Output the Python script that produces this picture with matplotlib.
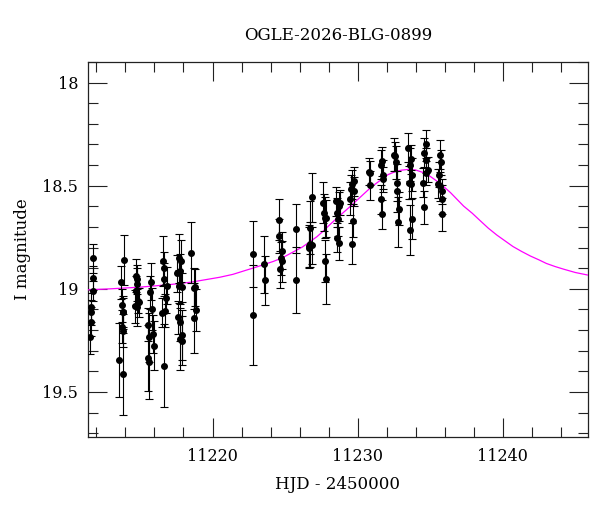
import matplotlib
matplotlib.use("Agg")
import matplotlib.pyplot as plt
from matplotlib.ticker import MultipleLocator, FixedLocator, FixedFormatter

# ---------------- data ----------------
title = "OGLE-2026-BLG-0899"
xlabel = "HJD - 2450000"
ylabel = "I magnitude"

hjd = [
    # night 1
    11211.75, 11211.78, 11211.78, 11211.62, 11211.65, 11211.60, 11211.57,
    # night 2
    11213.91, 11213.68, 11213.73, 11213.80, 11213.86, 11213.73, 11213.82, 11213.57, 11213.85,
    # night 3
    11214.75, 11214.80, 11214.78, 11214.70, 11214.86, 11214.92, 11214.65, 11214.80,
    # night 4
    11215.76, 11215.71, 11215.83, 11215.57, 11215.64, 11215.87, 11215.94, 11215.57, 11215.64,
    # night 5
    11216.58, 11216.63, 11216.67, 11216.86, 11216.79, 11216.52, 11216.75, 11216.63,
    # night 6
    11217.71, 11217.82, 11217.55, 11217.78, 11217.71, 11217.89, 11217.59, 11217.78, 11217.89, 11217.76, 11217.93,
    # night 7
    11218.55, 11218.69, 11218.81, 11218.88, 11218.74,
    # later nights
    11222.82, 11222.80,
    11223.58, 11223.62,
    11224.60, 11224.60, 11224.78, 11224.71, 11224.80, 11224.64,
    11225.73, 11225.78,
    11226.86, 11226.75, 11226.75, 11226.68, 11226.86, 11226.68,
    11227.61, 11227.70, 11227.75, 11227.84, 11227.77, 11227.84,
    11228.52, 11228.68, 11228.75, 11228.57, 11228.64, 11228.57, 11228.68,
    11229.72, 11229.64, 11229.53, 11229.76, 11229.50, 11229.69, 11229.60,
    11230.80, 11230.83, 11230.87,
    11231.70, 11231.63, 11231.75, 11231.77, 11231.63, 11231.68,
    11232.50, 11232.57, 11232.64, 11232.68, 11232.73, 11232.84, 11232.80,
    11233.50, 11233.66, 11233.61, 11233.73, 11233.54, 11233.68, 11233.77, 11233.61,
    11234.69, 11234.60, 11234.71, 11234.83, 11234.71, 11234.51, 11234.60,
    11235.69, 11235.73, 11235.62, 11235.55, 11235.69, 11235.78, 11235.83, 11235.83,
]

mag = [
    18.853, 18.948, 19.010, 19.090, 19.114, 19.159, 19.235,
    18.860, 18.969, 19.079, 19.114, 19.113, 19.184, 19.204, 19.344, 19.412,
    18.937, 18.953, 18.977, 19.010, 19.058, 19.066, 19.085, 19.090,
    18.966, 19.017, 19.098, 19.175, 19.235, 19.219, 19.275, 19.336, 19.356,
    18.865, 18.901, 18.953, 18.986, 19.046, 19.117, 19.106, 19.372,
    18.853, 18.865, 18.924, 18.913, 18.988, 18.993, 19.138, 19.162, 19.224, 19.243, 19.251,
    18.824, 18.998, 18.993, 19.103, 19.143,
    18.829, 19.127,
    18.882, 18.959,
    18.665, 18.744, 18.816, 18.853, 18.867, 18.905,
    18.708, 18.957,
    18.557, 18.703, 18.784, 18.792, 18.789, 18.800,
    18.583, 18.631, 18.655, 18.658, 18.865, 18.953,
    18.575, 18.599, 18.583, 18.631, 18.663, 18.752, 18.779,
    18.478, 18.494, 18.518, 18.527, 18.563, 18.671, 18.781,
    18.433, 18.438, 18.498,
    18.382, 18.398, 18.446, 18.470, 18.567, 18.639,
    18.349, 18.357, 18.386, 18.486, 18.527, 18.612, 18.676,
    18.317, 18.373, 18.398, 18.446, 18.486, 18.494, 18.660, 18.715,
    18.298, 18.341, 18.377, 18.422, 18.438, 18.486, 18.604,
    18.349, 18.386, 18.446, 18.491, 18.502, 18.527, 18.567, 18.639,
]

mag_err = [
    0.07, 0.06, 0.05, 0.07, 0.06, 0.07, 0.08,
    0.12, 0.08, 0.08, 0.07, 0.08, 0.08, 0.08, 0.18, 0.20,
    0.08, 0.07, 0.08, 0.07, 0.06, 0.07, 0.08, 0.09,
    0.09, 0.08, 0.10, 0.08, 0.12, 0.09, 0.12, 0.16, 0.18,
    0.12, 0.08, 0.08, 0.09, 0.07, 0.07, 0.08, 0.20,
    0.12, 0.10, 0.09, 0.08, 0.08, 0.07, 0.08, 0.09, 0.12, 0.15, 0.12,
    0.15, 0.10, 0.09, 0.10, 0.17,
    0.16, 0.24,
    0.14, 0.12,
    0.10, 0.08, 0.09, 0.08, 0.10, 0.09,
    0.12, 0.16,
    0.12, 0.13, 0.11, 0.10, 0.09, 0.10,
    0.10, 0.09, 0.10, 0.09, 0.10, 0.12,
    0.07, 0.07, 0.06, 0.07, 0.08, 0.07, 0.08,
    0.07, 0.07, 0.07, 0.07, 0.08, 0.08, 0.10,
    0.065, 0.06, 0.07,
    0.07, 0.07, 0.07, 0.06, 0.07, 0.07,
    0.08, 0.07, 0.08, 0.09, 0.10, 0.08, 0.12,
    0.07, 0.07, 0.08, 0.08, 0.08, 0.07, 0.10, 0.12,
    0.07, 0.07, 0.06, 0.06, 0.06, 0.07, 0.08,
    0.07, 0.06, 0.06, 0.07, 0.07, 0.06, 0.07, 0.08,
]

# model curve
model_hjd = [11211.4, 11213.0, 11215.0, 11217.0, 11218.5, 11219.5, 11220.5, 11221.4,
             11222.4, 11223.0, 11223.6, 11224.2, 11224.8, 11225.7, 11226.2, 11226.6,
             11227.2, 11227.6, 11228.1, 11228.5, 11229.0, 11229.5, 11230.1, 11230.7,
             11231.1, 11231.7, 11232.1, 11232.6, 11233.0, 11233.5, 11234.0, 11234.5,
             11235.0, 11235.7, 11236.4, 11237.3, 11237.9, 11238.4, 11239.0, 11239.6,
             11240.2, 11240.7, 11241.3, 11241.9, 11242.5, 11243.0, 11243.6, 11244.2,
             11245.0, 11245.9]
model_mag = [19.005, 19.000, 18.992, 18.980, 18.968, 18.956, 18.944, 18.930,
             18.908, 18.895, 18.881, 18.867, 18.850, 18.816, 18.797, 18.777,
             18.747, 18.722, 18.688, 18.662, 18.631, 18.600, 18.561, 18.522,
             18.498, 18.467, 18.446, 18.432, 18.425, 18.421, 18.424, 18.436,
             18.455, 18.490, 18.534, 18.599, 18.634, 18.667, 18.706, 18.740,
             18.770, 18.795, 18.819, 18.841, 18.860, 18.877, 18.892, 18.905,
             18.921, 18.934]

ytick_values = [18, 18.5, 19, 19.5]
ytick_labels = ["18", "18.5", "19", "19.5"]
xtick_values = [11220, 11230, 11240]
xtick_labels = ["11220", "11230", "11240"]

# ---------------- figure ----------------
plt.rcParams['font.family'] = ['DejaVu Serif']
fig = plt.figure(figsize=(6.0, 5.12), dpi=100)
ax = fig.add_axes([88 / 600, (512 - 436.7) / 512, (587.7 - 88) / 600, (436.7 - 61.7) / 512])

ax.plot(model_hjd, model_mag, color='#ff00ff', lw=0.9, zorder=3)
ax.errorbar(hjd, mag, yerr=mag_err, fmt='o', color='black', ms=4.0,
            ecolor='black', elinewidth=0.8, capsize=3.2, capthick=0.8, zorder=4)

ax.set_xlim(11211.42, 11245.85)
ax.set_ylim(19.717, 17.899)

ax.xaxis.set_major_locator(FixedLocator(xtick_values))
ax.xaxis.set_major_formatter(FixedFormatter(xtick_labels))
ax.xaxis.set_minor_locator(MultipleLocator(2))
ax.yaxis.set_major_locator(FixedLocator(ytick_values))
ax.yaxis.set_major_formatter(FixedFormatter(ytick_labels))
ax.yaxis.set_minor_locator(MultipleLocator(0.1))

ax.tick_params(which='both', direction='in', top=True, right=True, colors='#222222',
               labelcolor='black', labelsize=11.5, width=0.8)
ax.tick_params(which='major', length=13.5)
ax.tick_params(which='minor', length=7.0)
ax.tick_params(axis='x', which='major', pad=8)
ax.tick_params(axis='y', which='major', pad=7)
for s in ax.spines.values():
    s.set_linewidth(0.9)
    s.set_color('#222222')

fig.text(338 / 600, 1 - 35 / 512, title, ha='center', va='center', fontsize=12)
ax.set_xlabel(xlabel, fontsize=12, labelpad=8)
ax.set_ylabel(ylabel, fontsize=12, labelpad=8)

fig.savefig("out.png", dpi=100)
